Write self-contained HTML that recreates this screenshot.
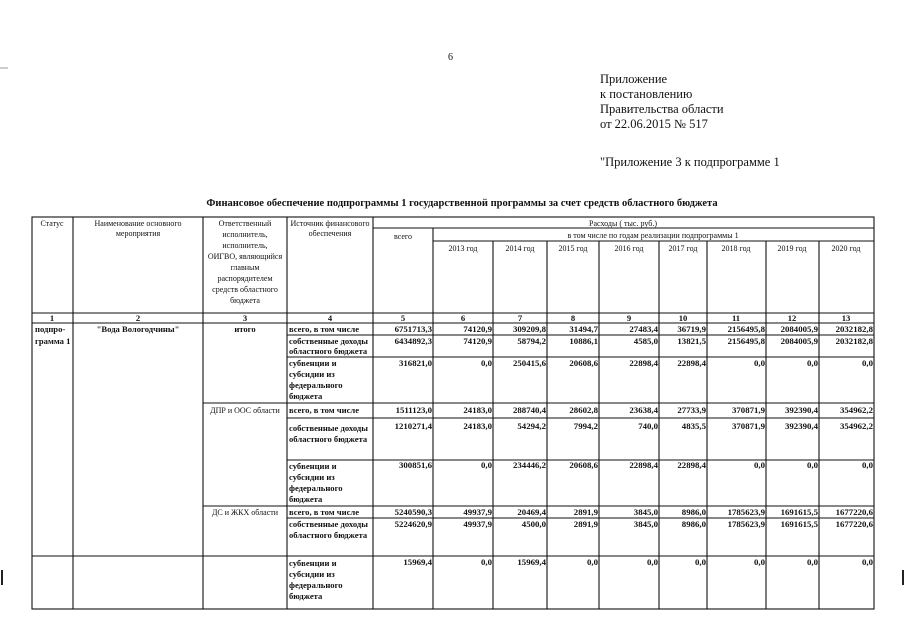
<!DOCTYPE html>
<html><head><meta charset="utf-8"><style>
html,body{margin:0;padding:0;background:#fff;width:905px;height:640px;overflow:hidden}
svg{display:block}
text{font-family:"Liberation Serif",serif;fill:#111}
.h{font-size:8px}
.b{font-size:8.6px;font-weight:bold}
.v{font-size:8.8px;font-weight:bold;text-anchor:end}
.n{font-size:8.6px;font-weight:bold;text-anchor:middle}
.c{text-anchor:middle}
</style></head><body>
<svg width="905" height="640" viewBox="0 0 905 640" xmlns="http://www.w3.org/2000/svg">
<text x="448" y="60" style="font-size:10px">6</text>
<g style="font-size:12.5px">
<text x="600" y="83">Приложение</text>
<text x="600" y="98">к постановлению</text>
<text x="600" y="113">Правительства области</text>
<text x="600" y="128">от 22.06.2015 № 517</text>
<text x="600" y="166">"Приложение 3 к подпрограмме 1</text>
</g>
<text x="462" y="206" class="c" style="font-size:10.5px;font-weight:bold">Финансовое обеспечение подпрограммы 1 государственной программы за счет средств областного бюджета</text>
<line x1="0" y1="68" x2="8" y2="68" stroke="#999" stroke-width="1"/>
<line x1="2" y1="570" x2="2" y2="585" stroke="#222" stroke-width="2"/>
<line x1="903" y1="570" x2="903" y2="585" stroke="#222" stroke-width="2"/>
<g stroke="#111" stroke-width="1.1" fill="none">
<rect x="32" y="217" width="842" height="392"/>
<line x1="73" y1="217" x2="73" y2="609"/>
<line x1="203" y1="217" x2="203" y2="609"/>
<line x1="287" y1="217" x2="287" y2="609"/>
<line x1="373" y1="217" x2="373" y2="609"/>
<line x1="433" y1="228" x2="433" y2="609"/>
<line x1="493" y1="241" x2="493" y2="609"/>
<line x1="547" y1="241" x2="547" y2="609"/>
<line x1="599" y1="241" x2="599" y2="609"/>
<line x1="659" y1="241" x2="659" y2="609"/>
<line x1="707" y1="241" x2="707" y2="609"/>
<line x1="766" y1="241" x2="766" y2="609"/>
<line x1="819" y1="241" x2="819" y2="609"/>
<line x1="373" y1="228" x2="874" y2="228"/>
<line x1="433" y1="241" x2="874" y2="241"/>
<line x1="32" y1="313" x2="874" y2="313"/>
<line x1="32" y1="323" x2="874" y2="323"/>
<line x1="287" y1="335" x2="874" y2="335"/>
<line x1="287" y1="357" x2="874" y2="357"/>
<line x1="203" y1="403" x2="874" y2="403"/>
<line x1="287" y1="418" x2="874" y2="418"/>
<line x1="287" y1="460" x2="874" y2="460"/>
<line x1="203" y1="506" x2="874" y2="506"/>
<line x1="287" y1="518" x2="874" y2="518"/>
<line x1="32" y1="556" x2="874" y2="556"/>
</g>
<g class="h">
<text x="52" y="226" class="c">Статус</text>
<text x="138" y="226" class="c">Наименование основного</text>
<text x="138" y="236" class="c">мероприятия</text>
<text x="245" y="226" class="c">Ответственный</text>
<text x="245" y="237" class="c">исполнитель,</text>
<text x="245" y="248" class="c">исполнитель,</text>
<text x="245" y="259" class="c">ОИГВО, являющийся</text>
<text x="245" y="270" class="c">главным</text>
<text x="245" y="281" class="c">распорядителем</text>
<text x="245" y="292" class="c">средств областного</text>
<text x="245" y="303" class="c">бюджета</text>
<text x="330" y="226" class="c">Источник финансового</text>
<text x="330" y="236" class="c">обеспечения</text>
<text x="623" y="226" class="c">Расходы ( тыс. руб.)</text>
<text x="403" y="239" class="c">всего</text>
<text x="653" y="238" class="c">в том числе по годам реализации подпрограммы 1</text>
<text x="463" y="251" class="c">2013 год</text>
<text x="520" y="251" class="c">2014 год</text>
<text x="573" y="251" class="c">2015 год</text>
<text x="629" y="251" class="c">2016 год</text>
<text x="683" y="251" class="c">2017 год</text>
<text x="736" y="251" class="c">2018 год</text>
<text x="792" y="251" class="c">2019 год</text>
<text x="846" y="251" class="c">2020 год</text>
</g>
<g>
<text class="n" x="52" y="321">1</text><text class="n" x="138" y="321">2</text><text class="n" x="245" y="321">3</text><text class="n" x="330" y="321">4</text><text class="n" x="403" y="321">5</text><text class="n" x="463" y="321">6</text><text class="n" x="520" y="321">7</text><text class="n" x="573" y="321">8</text><text class="n" x="629" y="321">9</text><text class="n" x="683" y="321">10</text><text class="n" x="736" y="321">11</text><text class="n" x="792" y="321">12</text><text class="n" x="846" y="321">13</text>
</g>
<g class="b">
<text x="35" y="332">подпро-</text>
<text x="35" y="344">грамма 1</text>
<text x="138" y="332" class="c">"Вода Вологодчины"</text>
<text x="245" y="332" class="c" style="font-weight:bold">итого</text>
</g>
<g class="h">
<text x="245" y="413" class="c">ДПР и ООС области</text>
<text x="245" y="515" class="c">ДС и ЖКХ области</text>
</g>
<g class="b">
<text x="289" y="332">всего, в том числе</text>
<text x="289" y="344">собственные доходы</text><text x="289" y="354">областного бюджета</text>
<text x="289" y="366">субвенции и</text><text x="289" y="377">субсидии  из</text><text x="289" y="388">федерального</text><text x="289" y="399">бюджета</text>
<text x="289" y="413">всего, в том числе</text>
<text x="289" y="431">собственные доходы</text><text x="289" y="442">областного бюджета</text>
<text x="289" y="469">субвенции и</text><text x="289" y="480">субсидии  из</text><text x="289" y="491">федерального</text><text x="289" y="502">бюджета</text>
<text x="289" y="515">всего, в том числе</text>
<text x="289" y="527">собственные доходы</text><text x="289" y="538">областного бюджета</text>
<text x="289" y="566">субвенции и</text><text x="289" y="577">субсидии  из</text><text x="289" y="588">федерального</text><text x="289" y="599">бюджета</text>
</g>
<g class="v">
<g transform="translate(0,332)">
<text x="432" y="0">6751713,3</text><text x="492" y="0">74120,9</text><text x="546" y="0">309209,8</text><text x="598" y="0">31494,7</text><text x="658" y="0">27483,4</text><text x="706" y="0">36719,9</text><text x="765" y="0">2156495,8</text><text x="818" y="0">2084005,9</text><text x="873" y="0">2032182,8</text>
</g>
<g transform="translate(0,344)">
<text x="432" y="0">6434892,3</text><text x="492" y="0">74120,9</text><text x="546" y="0">58794,2</text><text x="598" y="0">10886,1</text><text x="658" y="0">4585,0</text><text x="706" y="0">13821,5</text><text x="765" y="0">2156495,8</text><text x="818" y="0">2084005,9</text><text x="873" y="0">2032182,8</text>
</g>
<g transform="translate(0,366)">
<text x="432" y="0">316821,0</text><text x="492" y="0">0,0</text><text x="546" y="0">250415,6</text><text x="598" y="0">20608,6</text><text x="658" y="0">22898,4</text><text x="706" y="0">22898,4</text><text x="765" y="0">0,0</text><text x="818" y="0">0,0</text><text x="873" y="0">0,0</text>
</g>
<g transform="translate(0,413)">
<text x="432" y="0">1511123,0</text><text x="492" y="0">24183,0</text><text x="546" y="0">288740,4</text><text x="598" y="0">28602,8</text><text x="658" y="0">23638,4</text><text x="706" y="0">27733,9</text><text x="765" y="0">370871,9</text><text x="818" y="0">392390,4</text><text x="873" y="0">354962,2</text>
</g>
<g transform="translate(0,429)">
<text x="432" y="0">1210271,4</text><text x="492" y="0">24183,0</text><text x="546" y="0">54294,2</text><text x="598" y="0">7994,2</text><text x="658" y="0">740,0</text><text x="706" y="0">4835,5</text><text x="765" y="0">370871,9</text><text x="818" y="0">392390,4</text><text x="873" y="0">354962,2</text>
</g>
<g transform="translate(0,468)">
<text x="432" y="0">300851,6</text><text x="492" y="0">0,0</text><text x="546" y="0">234446,2</text><text x="598" y="0">20608,6</text><text x="658" y="0">22898,4</text><text x="706" y="0">22898,4</text><text x="765" y="0">0,0</text><text x="818" y="0">0,0</text><text x="873" y="0">0,0</text>
</g>
<g transform="translate(0,515)">
<text x="432" y="0">5240590,3</text><text x="492" y="0">49937,9</text><text x="546" y="0">20469,4</text><text x="598" y="0">2891,9</text><text x="658" y="0">3845,0</text><text x="706" y="0">8986,0</text><text x="765" y="0">1785623,9</text><text x="818" y="0">1691615,5</text><text x="873" y="0">1677220,6</text>
</g>
<g transform="translate(0,527)">
<text x="432" y="0">5224620,9</text><text x="492" y="0">49937,9</text><text x="546" y="0">4500,0</text><text x="598" y="0">2891,9</text><text x="658" y="0">3845,0</text><text x="706" y="0">8986,0</text><text x="765" y="0">1785623,9</text><text x="818" y="0">1691615,5</text><text x="873" y="0">1677220,6</text>
</g>
<g transform="translate(0,565)">
<text x="432" y="0">15969,4</text><text x="492" y="0">0,0</text><text x="546" y="0">15969,4</text><text x="598" y="0">0,0</text><text x="658" y="0">0,0</text><text x="706" y="0">0,0</text><text x="765" y="0">0,0</text><text x="818" y="0">0,0</text><text x="873" y="0">0,0</text>
</g>
</g>
</svg>
</body></html>
